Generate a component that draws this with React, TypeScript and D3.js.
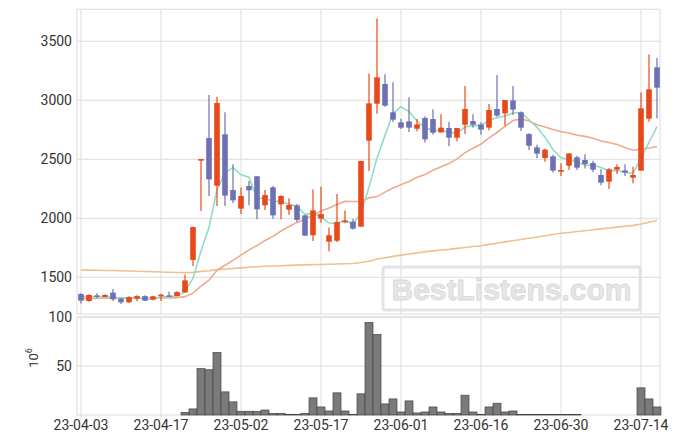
import React from "react";
import * as d3 from "d3";

const dates = [
  "23-04-03","23-04-04","23-04-05","23-04-06","23-04-07","23-04-10","23-04-11","23-04-12","23-04-13","23-04-14",
  "23-04-17","23-04-18","23-04-19","23-04-20","23-04-21","23-04-24","23-04-25","23-04-26","23-04-27","23-04-28",
  "23-05-02","23-05-03","23-05-04","23-05-08","23-05-09","23-05-10","23-05-11","23-05-12","23-05-15","23-05-16",
  "23-05-17","23-05-18","23-05-19","23-05-22","23-05-23","23-05-24","23-05-25","23-05-26","23-05-30","23-05-31",
  "23-06-01","23-06-02","23-06-05","23-06-07","23-06-08","23-06-09","23-06-12","23-06-13","23-06-14","23-06-15",
  "23-06-16","23-06-19","23-06-20","23-06-21","23-06-22","23-06-23","23-06-26","23-06-27","23-06-28","23-06-29",
  "23-06-30","23-07-03","23-07-04","23-07-05","23-07-06","23-07-07","23-07-10","23-07-11","23-07-12","23-07-13",
  "23-07-14","23-07-17","23-07-18",
];

const opens = [
  1358,1299,1347,1333,1370,1319,1288,1319,1341,1310,
  1341,1347,1341,1372,1647,2488,2680,2276,2712,2240,
  2082,2274,2356,2110,2262,2118,2073,2110,2025,1856,
  1997,1802,1810,1966,1971,1929,2658,2971,3138,2898,
  2813,2821,2759,2850,2841,2728,2765,2683,2793,2824,
  2796,2768,2926,2889,2999,2898,2714,2601,2511,2525,
  2395,2446,2517,2494,2469,2367,2310,2412,2406,2344,
  2404,2844,3279,
];
const highs = [
  1364,1356,1364,1356,1401,1324,1339,1347,1347,1344,
  1361,1378,1381,1522,1929,2502,3045,3031,2898,2457,
  2260,2316,2356,2240,2274,2195,2169,2121,2030,2245,
  2268,1923,2206,2067,1994,2486,3228,3694,3220,3152,
  2844,3025,2841,2864,2923,2881,2816,2765,3121,2881,
  2813,2969,3214,3002,3121,2904,2720,2624,2590,2539,
  2466,2550,2530,2542,2488,2415,2426,2457,2457,2437,
  3065,3387,3358,
];
const lows = [
  1279,1293,1324,1330,1299,1274,1282,1296,1299,1305,
  1299,1333,1339,1370,1596,2062,2189,2104,2104,2130,
  2036,2110,1991,2070,1997,1991,2028,1969,1850,1807,
  1963,1720,1799,1957,1905,1929,2401,2886,2946,2816,
  2756,2731,2737,2643,2711,2728,2610,2652,2714,2768,
  2709,2745,2861,2785,2875,2740,2579,2508,2480,2389,
  2358,2409,2409,2423,2392,2279,2248,2375,2358,2296,
  2404,2819,2847,
];
const closes = [
  1302,1350,1336,1350,1313,1288,1333,1341,1302,1339,
  1353,1339,1375,1474,1926,2502,2330,2977,2192,2152,
  2189,2237,2076,2197,2025,2189,2113,1986,1853,2067,
  2036,1856,1969,1980,1912,2486,2974,3194,2954,2836,
  2768,2768,2796,2669,2725,2768,2683,2765,2926,2793,
  2751,2918,2870,3002,2921,2768,2615,2548,2582,2404,
  2409,2550,2429,2460,2412,2302,2415,2435,2387,2367,
  2932,3093,3107,
];
// volume, millions
const volumes = [
  0,0,0,0,0,0,0,0,0,0,
  0,0,0,2.7,6.2,47.3,46.2,63.7,23.6,13.4,
  3.8,3.8,3.8,5.1,1.7,1.7,0.7,0.7,1.7,17.5,
  8.2,4.1,22.6,4.1,0.7,21.6,94.5,82.2,11.3,16.4,
  3.1,14.4,2.1,3.1,8.2,3.1,1.7,1.7,20.2,3.1,
  0.7,8.2,12,3.1,4.1,0.6,0.6,0.6,0.6,0.6,
  0.6,0.6,0.6,0,0,0,0,0,0,0,
  27.7,16.4,8.2,
];
const ma5 = [
  1338,1336,1335,1333,1330,1327,1324,1325,1315,1321,
  1334,1335,1342,1376,1493,1723,1921,2242,2385,2431,
  2368,2349,2169,2170,2145,2145,2120,2102,2033,2042,
  2011,1960,1956,1982,1951,2041,2264,2509,2704,2889,
  2945,2904,2824,2767,2745,2745,2728,2722,2773,2787,
  2784,2831,2852,2867,2892,2896,2835,2771,2687,2583,
  2512,2499,2475,2450,2452,2431,2404,2405,2390,2381,
  2507,2643,2777,
];
const ma20 = [
  1319,1321,1321,1323,1323,1321,1322,1323,1322,1323,
  1324,1325,1328,1336,1366,1425,1476,1559,1602,1644,
  1688,1732,1769,1812,1847,1892,1931,1964,1991,2028,
  2062,2088,2117,2143,2142,2141,2173,2184,2222,2256,
  2285,2312,2348,2372,2407,2436,2464,2503,2557,2593,
  2629,2682,2727,2778,2828,2842,2825,2792,2774,2752,
  2734,2723,2705,2694,2679,2655,2642,2626,2599,2577,
  2586,2595,2607,
];
const ma60 = [
  1562,1561,1560,1558,1557,1555,1553,1551,1549,1547,
  1545,1543,1541,1540,1542,1550,1556,1565,1570,1575,
  1580,1585,1590,1593,1596,1598,1601,1603,1605,1607,
  1609,1611,1613,1615,1617,1625,1636,1655,1666,1677,
  1688,1698,1707,1716,1724,1731,1737,1745,1753,1761,
  1768,1779,1789,1800,1810,1821,1831,1842,1852,1863,
  1873,1880,1888,1895,1903,1910,1918,1925,1932,1940,
  1952,1966,1981,
];
const priceTicks = [1500, 2000, 2500, 3000, 3500];
const volumeTicks = [50, 100];
const dateTickEvery = 10;

const UP = "#e8491a";
const DOWN = "#6d71b4";
const GRID = "#dcdcdc";

export default function App() {
  const W = 678, H = 444;
  const left = 77, right = 661;
  const pTop = 9.3, pBottom = 314;
  const vTop = 317, vBottom = 415;
  const idx = d3.range(dates.length);

  const x = d3.scaleBand<number>().domain(idx).range([left, right]).padding(0);
  const step = x.step();
  const cx = (i: number) => (x(i) as number) + step / 2;
  const y = d3.scaleLinear().domain([1189, 3771]).range([pBottom, pTop]);
  const yv = d3.scaleLinear().domain([0, 100]).range([vBottom, vTop]);

  const line = (arr: number[]) =>
    d3.line<number>().x((_, i) => cx(i)).y((d) => y(d)).curve(d3.curveLinear)(arr) || "";

  const tickIdx = idx.filter((i) => i % dateTickEvery === 0);
  const bodyW = step * 0.7;
  const font = "Roboto, 'Noto Sans', sans-serif";

  return (
    <svg width={W} height={H} style={{ position: "fixed", left: 0, top: 0, background: "#fff" }}>
      <rect x={0} y={0} width={W} height={H} fill="#fff" />
      {/* grid: vertical */}
      {tickIdx.map((i) => (
        <g key={"vg" + i}>
          <line x1={cx(i)} x2={cx(i)} y1={pTop} y2={pBottom} stroke={GRID} strokeWidth={1} />
          <line x1={cx(i)} x2={cx(i)} y1={vTop} y2={vBottom + 4} stroke={GRID} strokeWidth={1} />
        </g>
      ))}
      {priceTicks.map((t) => (
        <line key={"hg" + t} x1={left} x2={right - 1} y1={y(t)} y2={y(t)} stroke={GRID} strokeWidth={1} />
      ))}
      {volumeTicks.map((t) => (
        <line key={"vh" + t} x1={left} x2={right - 1} y1={yv(t)} y2={yv(t)} stroke={GRID} strokeWidth={1} />
      ))}
      {/* frames */}
      <rect x={left} y={pTop} width={right - 1 - left} height={pBottom - pTop} fill="none" stroke={GRID} strokeWidth={1} />
      <rect x={left} y={vTop} width={right - 1 - left} height={vBottom - vTop} fill="none" stroke={GRID} strokeWidth={1} />

      {/* watermark */}
      <rect x={383} y={267} width={257} height={43} rx={2} fill="none" stroke="#e3e3e3" strokeWidth={3} />
      <text x={511.5} y={300} textAnchor="middle" fontFamily="'Liberation Sans', Arial, sans-serif" fontWeight="bold"
        fontSize={30} fill="#e6e6e6" stroke="#d8d8d8" strokeWidth={0.8} textLength={240} lengthAdjust="spacingAndGlyphs">
        BestListens.com
      </text>

      {/* moving averages */}
      <path d={line(ma60)} fill="none" stroke="#f1bf90" strokeWidth={1.6} />
      <path d={line(ma20)} fill="none" stroke="#eeab8d" strokeWidth={1.6} />
      <path d={line(ma5)} fill="none" stroke="#93dcc4" strokeWidth={1.6} />

      {/* candles */}
      {idx.map((i) => {
        const o = opens[i], c = closes[i], h = highs[i], l = lows[i];
        const up = c >= o;
        const col = up ? UP : DOWN;
        const top = y(Math.max(o, c));
        const bot = y(Math.min(o, c));
        return (
          <g key={"c" + i}>
            <line x1={cx(i)} x2={cx(i)} y1={y(h)} y2={y(l)} stroke={col} strokeWidth={1.2} />
            <rect x={cx(i) - bodyW / 2} y={top} width={bodyW} height={Math.max(1.5, bot - top)} fill={col} />
          </g>
        );
      })}

      {/* volume bars */}
      {idx.map((i) =>
        volumes[i] > 0 ? (
          <rect key={"v" + i} x={x(i) as number} y={yv(volumes[i])} width={step} height={vBottom - yv(volumes[i])}
            fill="#7a7a7a" stroke="#444" strokeWidth={0.7} />
        ) : null
      )}

      {/* price axis labels */}
      {priceTicks.map((t) => (
        <text key={"pl" + t} x={72} y={y(t)} dy="0.35em" textAnchor="end" fontFamily={font} fontSize={14} fill="#333">
          {t}
        </text>
      ))}
      {volumeTicks.map((t) => (
        <text key={"vl" + t} x={72} y={yv(t)} dy="0.35em" textAnchor="end" fontFamily={font} fontSize={14} fill="#333">
          {t}
        </text>
      ))}
      <text transform="translate(38,358) rotate(-90)" textAnchor="middle" fontFamily={font} fontSize={13} fill="#333">
        10<tspan dy={-6} fontSize={9}>6</tspan>
      </text>

      {/* date labels */}
      {tickIdx.map((i) => (
        <text key={"dl" + i} x={cx(i)} y={430} textAnchor="middle" fontFamily={font} fontSize={14} fill="#333">
          {dates[i]}
        </text>
      ))}
    </svg>
  );
}
